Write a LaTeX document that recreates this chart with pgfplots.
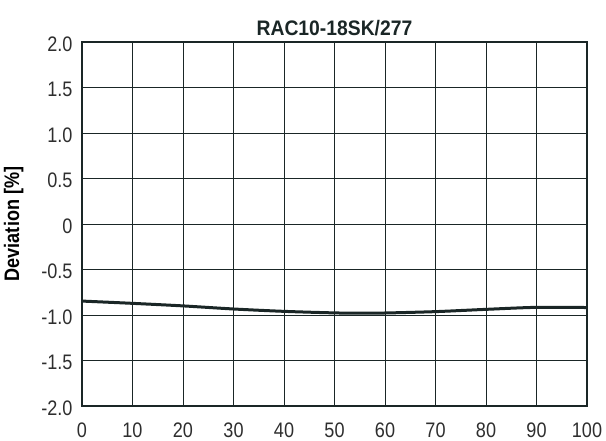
\documentclass[border=0pt]{standalone}
\usepackage{fontspec}
\setmainfont{Liberation Sans}[FakeStretch=0.86]
\newfontfamily\titlefont{Liberation Sans}[FakeStretch=0.92]
\usepackage{pgfplots}
\pgfplotsset{compat=1.18}
\definecolor{curve}{HTML}{1A2626}
\definecolor{txt}{HTML}{2E2E2E}
\begin{document}
\begin{tikzpicture}
\begin{axis}[
  name=ax,
  scale only axis,
  width=505pt, height=364pt,
  xmin=0, xmax=100, ymin=-2, ymax=2,
  xtick={0,10,...,100},
  ytick={-2,-1.5,...,2},
  yticklabels={-2.0,-1.5,-1.0,-0.5,0,0.5,1.0,1.5,2.0},
  grid=major,
  major grid style={curve, line width=0.9pt},
  axis line style={curve, line width=2.4pt},
  tick style={draw=none},
  ticklabel style={font=\fontsize{21}{24}\selectfont, text=txt},
  /pgf/number format/assume math mode=true,
  xticklabel style={yshift=-13pt},
  yticklabel style={xshift=-6pt, yshift=-2pt},
  title={\titlefont\bfseries RAC10-18SK/277},
  title style={font=\fontsize{21}{24}\selectfont, text=curve, yshift=-3pt},
  ylabel={\bfseries Deviation [\%]},
  ylabel style={font=\fontsize{21}{24}\selectfont, text=black, yshift=11pt},
]
\addplot[curve, line width=3pt, smooth] coordinates {
(0,-0.847) (10,-0.872) (20,-0.90) (30,-0.934) (40,-0.96) (50,-0.977) (55,-0.98) (60,-0.978) (70,-0.963) (80,-0.938) (90,-0.916) (100,-0.918)
};
\end{axis}
\path ([xshift=-82pt,yshift=-33pt]ax.south west) ([xshift=19pt,yshift=42pt]ax.north east);
\end{tikzpicture}
\end{document}
